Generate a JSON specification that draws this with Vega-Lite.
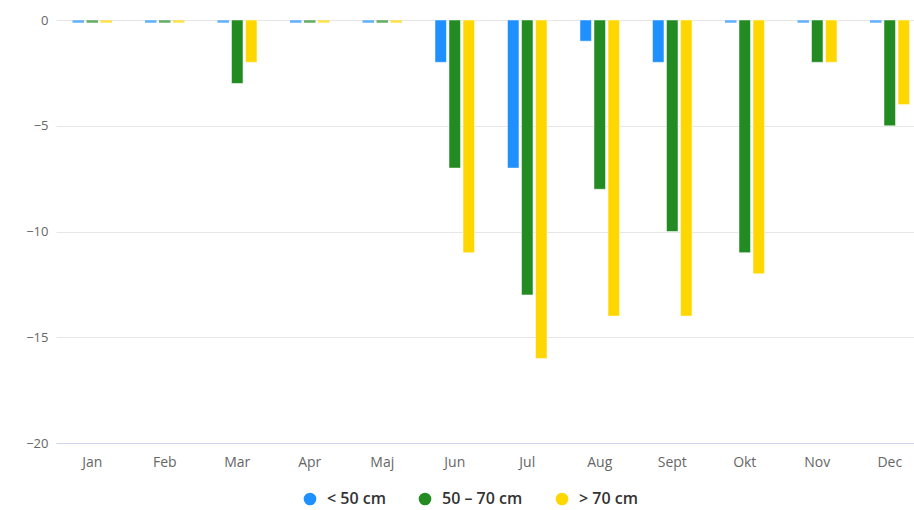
{
  "$schema": "https://vega.github.io/schema/vega-lite/v6.json",
  "autosize": "none",
  "width": 858,
  "height": 423,
  "padding": {"left": 56, "top": 20, "right": 0, "bottom": 67},
  "background": "white",
  "config": {
    "font": "Open Sans",
    "view": {"stroke": null},
    "axis": {"labelColor": "#666666", "labelFontSize": 13, "ticks": false}
  },
  "data": {
    "values": [
      {"month": "Jan", "series": "< 50 cm", "value": 0},
      {"month": "Jan", "series": "50 – 70 cm", "value": 0},
      {"month": "Jan", "series": "> 70 cm", "value": 0},
      {"month": "Feb", "series": "< 50 cm", "value": 0},
      {"month": "Feb", "series": "50 – 70 cm", "value": 0},
      {"month": "Feb", "series": "> 70 cm", "value": 0},
      {"month": "Mar", "series": "< 50 cm", "value": 0},
      {"month": "Mar", "series": "50 – 70 cm", "value": -3},
      {"month": "Mar", "series": "> 70 cm", "value": -2},
      {"month": "Apr", "series": "< 50 cm", "value": 0},
      {"month": "Apr", "series": "50 – 70 cm", "value": 0},
      {"month": "Apr", "series": "> 70 cm", "value": 0},
      {"month": "Maj", "series": "< 50 cm", "value": 0},
      {"month": "Maj", "series": "50 – 70 cm", "value": 0},
      {"month": "Maj", "series": "> 70 cm", "value": 0},
      {"month": "Jun", "series": "< 50 cm", "value": -2},
      {"month": "Jun", "series": "50 – 70 cm", "value": -7},
      {"month": "Jun", "series": "> 70 cm", "value": -11},
      {"month": "Jul", "series": "< 50 cm", "value": -7},
      {"month": "Jul", "series": "50 – 70 cm", "value": -13},
      {"month": "Jul", "series": "> 70 cm", "value": -16},
      {"month": "Aug", "series": "< 50 cm", "value": -1},
      {"month": "Aug", "series": "50 – 70 cm", "value": -8},
      {"month": "Aug", "series": "> 70 cm", "value": -14},
      {"month": "Sept", "series": "< 50 cm", "value": -2},
      {"month": "Sept", "series": "50 – 70 cm", "value": -10},
      {"month": "Sept", "series": "> 70 cm", "value": -14},
      {"month": "Okt", "series": "< 50 cm", "value": 0},
      {"month": "Okt", "series": "50 – 70 cm", "value": -11},
      {"month": "Okt", "series": "> 70 cm", "value": -12},
      {"month": "Nov", "series": "< 50 cm", "value": 0},
      {"month": "Nov", "series": "50 – 70 cm", "value": -2},
      {"month": "Nov", "series": "> 70 cm", "value": -2},
      {"month": "Dec", "series": "< 50 cm", "value": 0},
      {"month": "Dec", "series": "50 – 70 cm", "value": -5},
      {"month": "Dec", "series": "> 70 cm", "value": -4}
    ]
  },
  "encoding": {
    "x": {
      "field": "month", "type": "nominal", "sort": null,
      "scale": {"range": [0, 870], "paddingInner": 0.455, "paddingOuter": 0.2275},
      "axis": {"title": null, "labelAngle": 0, "labelPadding": 12, "labelFontSize": 14, "domainColor": "#ccd6eb", "grid": false}
    },
    "xOffset": {
      "field": "series", "type": "nominal",
      "sort": ["< 50 cm", "50 – 70 cm", "> 70 cm"],
      "scale": {"paddingInner": 0.18, "paddingOuter": 0}
    },
    "color": {
      "field": "series", "type": "nominal",
      "sort": ["< 50 cm", "50 – 70 cm", "> 70 cm"],
      "scale": {"domain": ["< 50 cm", "50 – 70 cm", "> 70 cm"], "range": ["#1e90ff", "#228b22", "#ffd700"]},
      "legend": {
        "title": null, "orient": "none", "legendX": 246, "legendY": 471, "direction": "horizontal",
        "symbolType": "circle", "symbolSize": 160, "symbolStrokeWidth": 0, "symbolOffset": 0,
        "labelFontSize": 16, "labelFontWeight": 600, "labelColor": "#333333", "labelOffset": 9,
        "columnPadding": 31
      }
    }
  },
  "layer": [
    {
      "mark": {"type": "bar", "stroke": "white", "strokeWidth": 0.5},
      "encoding": {
        "y": {
          "field": "value", "type": "quantitative",
          "scale": {"domain": [-20, 0], "nice": false, "zero": true},
          "axis": {"title": null, "values": [0, -5, -10, -15, -20], "domain": false, "gridColor": "#e6e6e6", "labelPadding": 8, "labelFontSize": 13}
        }
      }
    },
    {
      "transform": [{"filter": {"field": "value", "equal": 0}}],
      "mark": {"type": "tick", "orient": "horizontal", "thickness": 2.5, "size": 11.5, "yOffset": 1.5},
      "encoding": {
        "y": {"field": "value", "type": "quantitative"}
      }
    }
  ]
}
